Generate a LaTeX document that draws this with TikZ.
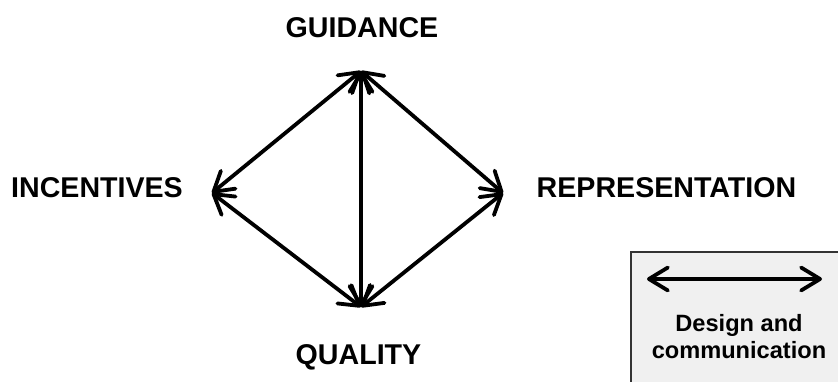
\documentclass[tikz,border=0pt]{standalone}
\usepackage{fontspec}
\setmainfont{Liberation Sans}
\usetikzlibrary{arrows.meta}
\definecolor{legendfill}{HTML}{F0F0F0}
\definecolor{legendedge}{HTML}{333333}
\tikzset{
  corner/.style={font=\bfseries\fontsize{28.6}{34}\selectfont, inner sep=0pt, anchor=base},
  legendtext/.style={font=\bfseries\fontsize{23.6}{28}\selectfont, inner sep=0pt, anchor=base},
  link/.style={line width=3.8pt, line cap=round,
    {Straight Barb[length=19pt,width=23pt,line cap=round,line join=round]}-{Straight Barb[length=19pt,width=23pt,line cap=round,line join=round]}}
}
\begin{document}
\begin{tikzpicture}[x=1pt,y=-1pt]
  \useasboundingbox (0,0) rectangle (838,381);
  \begin{scope}
    \clip (0,0) rectangle (838,381);
    % legend panel (runs off the right and bottom edges)
    \fill[legendfill] (631,252) rectangle (845,390);
    \draw[legendedge, line width=1.5pt] (631,390) -- (631,252) -- (845,252);
  \end{scope}
  \coordinate (la) at (647,279);
  \coordinate (lb) at (822,279);
  \draw[link] (la) -- (lb);
  \node[legendtext] (l1) at (739,331) {Design and};
  \node[legendtext] (l2) at (739,358) {communication};
  % diamond corners
  \coordinate (top) at (361,71);
  \coordinate (left) at (212,193);
  \coordinate (right) at (503,193);
  \coordinate (bottom) at (361,307);
  \draw[link] (top) -- (left);
  \draw[link] (top) -- (right);
  \draw[link] (top) -- (bottom);
  \draw[link] (left) -- (bottom);
  \draw[link] (right) -- (bottom);
  % labels
  \node[corner] (g) at (362,37) {GUIDANCE};
  \node[corner] (i) at (97,197) {INCENTIVES};
  \node[corner] (r) at (666.5,197) {REPRESENTATION};
  \node[corner] (q) at (358.5,364) {QUALITY};
\end{tikzpicture}
\end{document}
